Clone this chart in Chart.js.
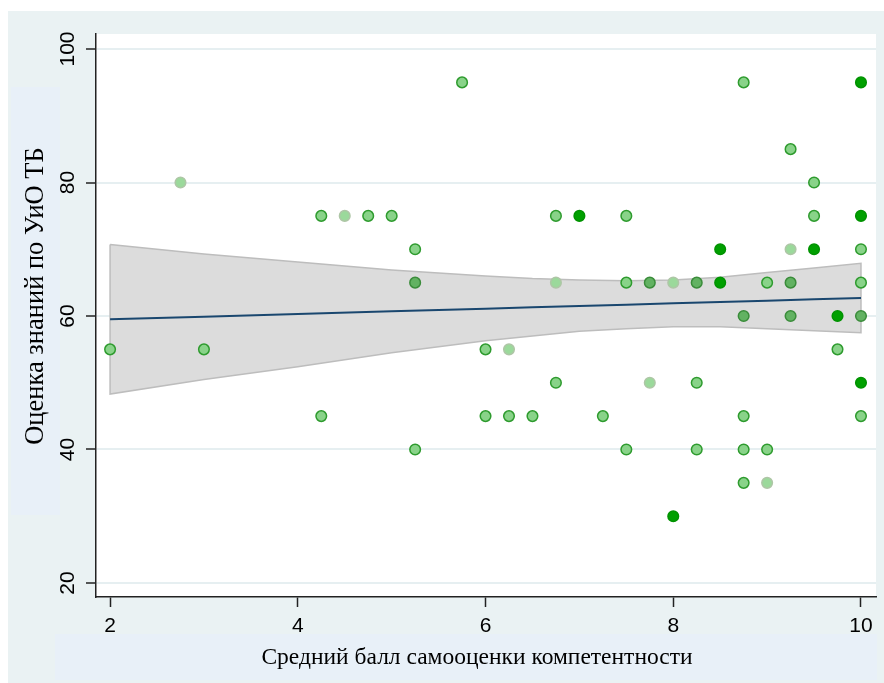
<!DOCTYPE html>
<html>
<head>
<meta charset="utf-8">
<script src="https://cdn.jsdelivr.net/npm/chart.js@4/dist/chart.umd.min.js"></script>
<style>
  html, body { margin: 0; padding: 0; background: #ffffff; }
  #wrap { width: 884px; height: 683px; }
</style>
</head>
<body>
<div id="wrap"><canvas id="c" width="884" height="683"></canvas></div>
<script>
// Self-assessed competence (x) vs. safety knowledge score (y)
const scoreX = [2, 2.75, 3, 4.25, 4.25, 4.5, 4.75, 5, 5.25, 5.25, 5.25, 5.75,
  6, 6, 6.25, 6.25, 6.5, 6.75, 6.75, 6.75, 7, 7.25, 7.5, 7.5, 7.5, 7.75, 7.75,
  8, 8, 8.25, 8.25, 8.25, 8.5, 8.5, 8.75, 8.75, 8.75, 8.75, 8.75, 9, 9, 9,
  9.25, 9.25, 9.25, 9.25, 9.5, 9.5, 9.5, 9.75, 9.75, 10, 10, 10, 10, 10, 10, 10];
const scoreY = [55, 80, 55, 75, 45, 75, 75, 75, 70, 65, 40, 95,
  55, 45, 55, 45, 45, 75, 65, 50, 75, 45, 75, 65, 40, 65, 50,
  65, 30, 65, 50, 40, 70, 65, 95, 60, 45, 40, 35, 65, 40, 35,
  85, 70, 65, 60, 80, 75, 70, 60, 55, 95, 75, 70, 65, 60, 50, 45];
// number of respondents sharing each (x, y) pair
const obsCount = [2, 1, 2, 2, 2, 1, 2, 2, 2, 3, 2, 2,
  2, 2, 1, 2, 2, 2, 1, 2, 4, 2, 2, 2, 2, 3, 1,
  1, 4, 3, 2, 2, 4, 4, 2, 3, 2, 2, 2, 2, 2, 1,
  2, 1, 3, 3, 2, 2, 4, 4, 2, 4, 4, 2, 2, 3, 4, 2];

// Linear fit with 95% confidence band
const fitX = [2, 3, 4, 5, 6, 6.5, 7, 7.5, 8, 8.5, 9, 9.5, 10];
const fitY = [59.5, 59.9, 60.3, 60.7, 61.1, 61.3, 61.5, 61.7, 61.9, 62.1, 62.3, 62.5, 62.7];
const ciUpper = [70.7, 69.3, 68.1, 66.9, 66.0, 65.6, 65.4, 65.3, 65.4, 65.8, 66.5, 67.2, 67.9];
const ciLower = [48.3, 50.5, 52.4, 54.5, 56.3, 57.0, 57.7, 58.1, 58.4, 58.4, 58.1, 57.8, 57.5];

const xTicks = [2, 4, 6, 8, 10];
const yTicks = [20, 40, 60, 80, 100];

const xTitle = 'Средний балл самооценки компетентности';
const yTitle = 'Оценка знаний по УиО ТБ';

const scatterPts = scoreX.map((x, i) => ({ x: x, y: scoreY[i] }));
const fitPts = fitX.map((x, i) => ({ x: x, y: fitY[i] }));
const bandPts = fitX.map((x, i) => ({ x: x, y: ciUpper[i] }))
  .concat(fitX.slice().reverse().map((x, i) => ({ x: x, y: ciLower[ciLower.length - 1 - i] })));
bandPts.push({ x: fitX[0], y: ciUpper[0] });

const FILLS = ['#9bd99b', '#89d389', '#62b262', '#00a000'];
const EDGES = ['#aec6a6', '#2e9b2e', '#3a8c3a', '#009200'];
const shade = (ctx, arr) => arr[Math.min(obsCount[ctx.dataIndex] || 1, 4) - 1];

const framePlugin = {
  id: 'frame',
  beforeDraw(chart) {
    const ctx = chart.ctx;
    const a = chart.chartArea;
    ctx.save();
    ctx.fillStyle = '#ffffff';
    ctx.fillRect(0, 0, chart.width, chart.height);
    ctx.fillStyle = '#eaf2f3';
    ctx.fillRect(8, 11, chart.width - 8, chart.height - 11);
    ctx.fillStyle = '#e8f0f8';
    ctx.fillRect(11, 87, 49, 428);
    ctx.fillRect(55, 634, 822, 46);
    ctx.fillStyle = '#ffffff';
    ctx.fillRect(a.left, a.top, a.right - a.left, a.bottom - a.top);
    ctx.restore();
  },
  afterDraw(chart) {
    const ctx = chart.ctx;
    ctx.save();
    ctx.fillStyle = '#000000';
    ctx.textAlign = 'center';
    ctx.textBaseline = 'middle';
    ctx.font = '23.5px "Liberation Serif", "Times New Roman", serif';
    ctx.fillText(xTitle, 477, 658);
    ctx.font = '26.5px "Liberation Serif", "Times New Roman", serif';
    ctx.translate(36, 296);
    ctx.rotate(-Math.PI / 2);
    ctx.fillText(yTitle, 0, 0);
    ctx.restore();
  }
};

const tickFont = { family: '"Liberation Sans", Arial, sans-serif', size: 21 };

new Chart(document.getElementById('c'), {
  type: 'scatter',
  data: {
    datasets: [
      {
        label: 'points',
        data: scatterPts,
        order: 0,
        pointRadius: 5.3,
        pointHoverRadius: 5.3,
        pointBorderWidth: 1.5,
        backgroundColor: (ctx) => shade(ctx, FILLS),
        borderColor: (ctx) => shade(ctx, EDGES)
      },
      {
        label: 'fit',
        data: fitPts,
        order: 1,
        showLine: true,
        pointRadius: 0,
        borderColor: '#1a476f',
        borderWidth: 2,
        fill: false
      },
      {
        label: 'ci',
        data: bandPts,
        order: 2,
        showLine: true,
        pointRadius: 0,
        borderColor: '#bdbdbd',
        borderWidth: 1.5,
        backgroundColor: '#dcdcdc',
        fill: 'shape'
      }
    ]
  },
  options: {
    responsive: false,
    animation: false,
    devicePixelRatio: 1,
    layout: { padding: { left: 0, top: 34, right: 8, bottom: 0 } },
    plugins: {
      legend: { display: false },
      tooltip: { enabled: false },
      title: { display: false }
    },
    scales: {
      x: {
        type: 'linear',
        position: 'bottom',
        min: 1.85,
        max: 10.16,
        afterBuildTicks: (s) => { s.ticks = xTicks.map(v => ({ value: v })); },
        afterFit: (s) => { s.height = 86; },
        ticks: { font: tickFont, color: '#000000', padding: 7, maxRotation: 0, autoSkip: false },
        grid: { drawOnChartArea: false, tickLength: 10, tickColor: '#222222', tickWidth: 1.5 },
        border: { display: true, color: '#222222', width: 1.5 }
      },
      y: {
        type: 'linear',
        position: 'left',
        min: 17.9,
        max: 102.25,
        afterBuildTicks: (s) => { s.ticks = yTicks.map(v => ({ value: v })); },
        afterFit: (s) => { s.width = 96; },
        ticks: { font: tickFont, color: '#000000', padding: 0, minRotation: 90, maxRotation: 90, crossAlign: 'center', autoSkip: false },
        grid: { color: '#e6eff1', lineWidth: 2, tickLength: 10, tickColor: '#222222', tickWidth: 1.5 },
        border: { display: true, color: '#222222', width: 1.5 }
      }
    }
  },
  plugins: [framePlugin]
});
</script>
</body>
</html>
